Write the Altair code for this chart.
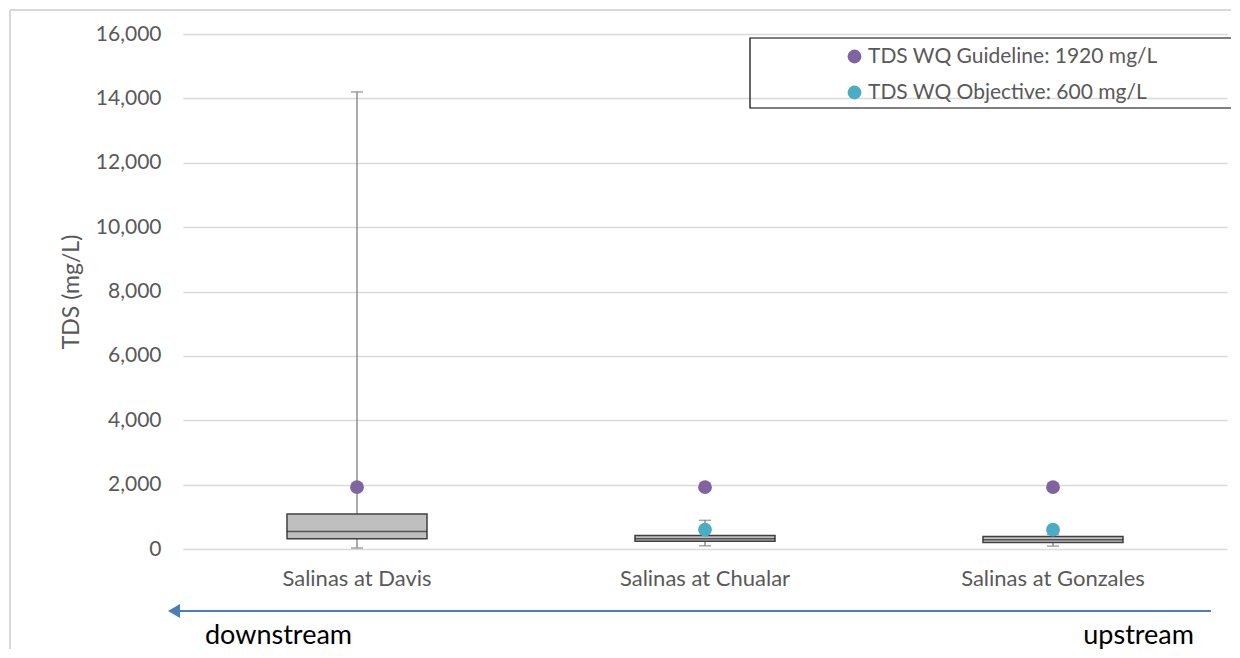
import altair as alt
import pandas as pd

sites = ["Salinas at Davis", "Salinas at Chualar", "Salinas at Gonzales"]
whisker_min = [30, 100, 90]
q1 = [320, 240, 200]
median = [540, 320, 290]
q3 = [1090, 420, 390]
whisker_max = [14200, 890, 450]

guideline_label = "TDS WQ Guideline: 1920 mg/L"
objective_label = "TDS WQ Objective: 600 mg/L"
guideline = [1920, 1920, 1920]
objective = [None, 600, 600]

y_ticks = [0, 2000, 4000, 6000, 8000, 10000, 12000, 14000, 16000]

FONT = "Lato"
GRAY = "#595959"

box_df = pd.DataFrame({"site": sites, "lo": whisker_min, "q1": q1, "med": median,
                       "q3": q3, "hi": whisker_max})
rows = []
for s, g, o in zip(sites, guideline, objective):
    if g is not None:
        rows.append({"site": s, "series": guideline_label, "value": g})
    if o is not None:
        rows.append({"site": s, "series": objective_label, "value": o})
pts_df = pd.DataFrame(rows)
one = pd.DataFrame({"a": [0]})

x_enc = alt.X("site:N", sort=sites,
              scale=alt.Scale(paddingInner=0, paddingOuter=0),
              axis=alt.Axis(title=None, labelAngle=0, domain=False, ticks=False,
                            labelFont=FONT, labelFontSize=22, labelColor=GRAY,
                            labelPadding=19, labelLimit=400, grid=False))
y_scale = alt.Scale(domain=[0, 16000], nice=False, zero=True)
y_axis = alt.Axis(title="TDS (mg/L)", values=y_ticks, format=",d", domain=False,
                  ticks=False, grid=True, gridColor="#d9d9d9", gridWidth=1.3,
                  labelFont=FONT, labelFontSize=21, labelColor=GRAY, labelPadding=22,
                  titleFont=FONT, titleFontSize=23, titleColor=GRAY,
                  titleFontWeight="normal", titlePadding=12)

whiskers = alt.Chart(box_df).mark_rule(color="#7f7f7f", strokeWidth=1.3).encode(
    x=x_enc, y=alt.Y("lo:Q", scale=y_scale, axis=y_axis), y2="hi:Q")
cap_hi = alt.Chart(box_df).mark_tick(color="#7f7f7f", size=12, thickness=1.5,
                                     orient="horizontal").encode(
    x=x_enc, y=alt.Y("hi:Q", scale=y_scale, axis=y_axis))
cap_lo = alt.Chart(box_df).mark_tick(color="#7f7f7f", size=12, thickness=1.5,
                                     orient="horizontal").encode(
    x=x_enc, y=alt.Y("lo:Q", scale=y_scale, axis=y_axis))
boxes = alt.Chart(box_df).mark_bar(size=140, fill="#bfbfbf", stroke="#404040",
                                   strokeWidth=1.5).encode(
    x=x_enc, y=alt.Y("q1:Q", scale=y_scale, axis=y_axis), y2="q3:Q")
medians = alt.Chart(box_df).mark_tick(color="#262626", size=140, thickness=1.5,
                                      orient="horizontal").encode(
    x=x_enc, y=alt.Y("med:Q", scale=y_scale, axis=y_axis))

points = alt.Chart(pts_df).mark_point(filled=True, opacity=1, size=190).encode(
    x=x_enc, y=alt.Y("value:Q", scale=y_scale, axis=y_axis),
    color=alt.Color("series:N",
                    scale=alt.Scale(domain=[guideline_label, objective_label],
                                    range=["#8064a2", "#4bacc6"]),
                    legend=alt.Legend(orient="none", legendX=661, legendY=12, title=None,
                                      labelFont=FONT, labelFontSize=21, labelColor=GRAY,
                                      symbolType="circle", symbolSize=190,
                                      symbolStrokeWidth=0, rowPadding=14,
                                      labelOffset=3, labelLimit=400, padding=0)))

legend_box = alt.Chart(one).mark_rect(fill=None, stroke="#000000", strokeWidth=1.2).encode(
    x=alt.value(567), x2=alt.value(1080), y=alt.value(4), y2=alt.value(74))

border_left = alt.Chart(one).mark_rule(color="#d9d9d9", strokeWidth=2).encode(
    x=alt.value(-173), y=alt.value(-24), y2=alt.value(640))
border_top = alt.Chart(one).mark_rule(color="#d9d9d9", strokeWidth=2).encode(
    x=alt.value(-173), x2=alt.value(1080), y=alt.value(-24))

arrow_line = alt.Chart(one).mark_rule(color="#4a7ebb", strokeWidth=2).encode(
    x=alt.value(-6), x2=alt.value(1028), y=alt.value(577))
arrow_head = alt.Chart(one).mark_point(shape="triangle-left", filled=True, opacity=1,
                                       color="#4a7ebb", size=190).encode(
    x=alt.value(-9), y=alt.value(577))
down_txt = alt.Chart(one).mark_text(text="downstream", font=FONT, fontSize=27,
                                    color="#000000", align="left",
                                    baseline="alphabetic").encode(
    x=alt.value(22), y=alt.value(610))
up_txt = alt.Chart(one).mark_text(text="upstream", font=FONT, fontSize=27,
                                  color="#000000", align="right",
                                  baseline="alphabetic").encode(
    x=alt.value(1011), y=alt.value(610))

chart = alt.layer(
    border_left, border_top, whiskers, cap_hi, cap_lo, boxes, medians, points,
    legend_box, arrow_line, arrow_head, down_txt, up_txt
).properties(
    width=1044, height=515,
    padding={"left": 175, "top": 26, "right": 4, "bottom": 100},
    autosize=alt.AutoSizeParams(type="none"),
).configure_view(stroke=None)

chart.save("out.html", embed_options={"renderer": "svg", "actions": False})
